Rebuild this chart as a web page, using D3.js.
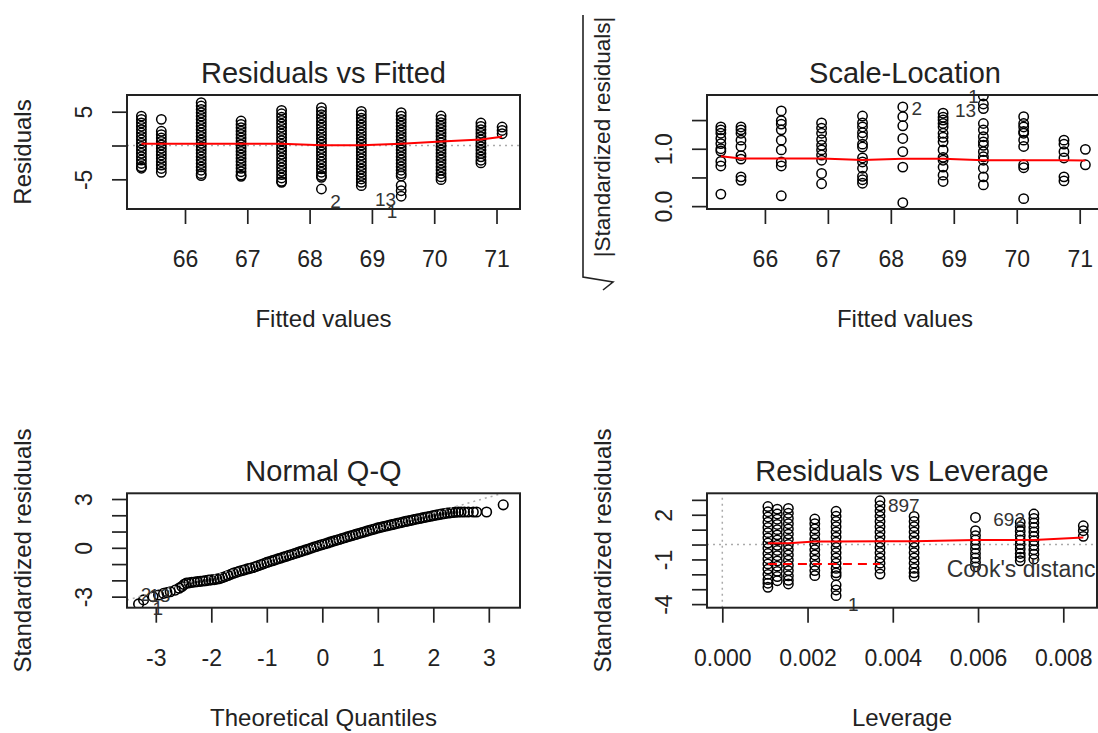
<!DOCTYPE html>
<html>
<head>
<meta charset="utf-8">
<script src="https://cdn.jsdelivr.net/npm/d3@7"></script>
<style>
  body { margin: 0; background: #fff; }
  svg { display: block; font-family: Arial, "Liberation Sans", sans-serif; }
</style>
</head>
<body>
<svg></svg>
<script>
// ---- data ----

// one fitted value per column of points
var fitted = [65.3, 65.62, 66.26, 66.9, 67.55, 68.19, 68.83, 69.47, 70.11, 70.75, 71.09];

// residuals in each fitted column
var residuals = [
  [4.35, 3.85, 3.35, 2.85, 2.35, 1.85, 1.35, 0.85, 0.35, -0.15, -0.65, -1.15, -1.65, -2.15, -2.65, -3.15, -3.36],
  [3.87, 2.1, 1.6, 1.1, 0.6, 0.1, -0.4, -0.9, -1.4, -1.9, -2.4, -2.9, -3.4, -3.96],
  [6.34, 5.84, 5.34, 4.84, 4.34, 3.84, 3.34, 2.84, 2.34, 1.84, 1.34, 0.84, 0.34, -0.16, -0.66, -1.16, -1.66, -2.16, -2.66, -3.16, -3.66, -4.16, -4.45],
  [3.62, 3.12, 2.62, 2.12, 1.62, 1.12, 0.62, 0.12, -0.38, -0.88, -1.38, -1.88, -2.38, -2.88, -3.38, -3.88, -4.38, -4.55],
  [5.2, 4.7, 4.2, 3.7, 3.2, 2.7, 2.2, 1.7, 1.2, 0.7, 0.2, -0.3, -0.8, -1.3, -1.8, -2.3, -2.8, -3.3, -3.8, -4.3, -4.8, -5.3, -5.44],
  [5.6, 5.05, 4.55, 4.05, 3.55, 3.05, 2.55, 2.05, 1.55, 1.05, 0.55, 0.05, -0.45, -0.95, -1.45, -1.95, -2.45, -2.95, -3.45, -3.95, -4.45, -4.7, -6.43],
  [5.05, 4.55, 4.05, 3.55, 3.05, 2.55, 2.05, 1.55, 1.05, 0.55, 0.05, -0.45, -0.95, -1.45, -1.95, -2.45, -2.95, -3.45, -3.95, -4.45, -4.95, -5.45, -5.94],
  [4.85, 4.35, 3.85, 3.35, 2.85, 2.35, 1.85, 1.35, 0.85, 0.35, -0.15, -0.65, -1.15, -1.65, -2.15, -2.65, -3.15, -3.65, -4.15, -4.5, -5.9, -6.68, -7.5],
  [4.36, 3.86, 3.36, 2.86, 2.36, 1.86, 1.36, 0.86, 0.36, -0.14, -0.64, -1.14, -1.64, -2.14, -2.64, -3.14, -3.64, -4.14, -4.64, -5.05],
  [3.32, 2.82, 2.32, 1.82, 1.32, 0.82, 0.32, -0.18, -0.68, -1.18, -1.68, -2.18, -2.57],
  [2.73, 2.23, 1.74]
];
var residSmooth = [0.25, 0.25, 0.25, 0.25, 0.25, 0.02, 0.02, 0.25, 0.6, 0.9, 1.3];
var residIds = ["2", "13", "1"];
var residIdFit = [68.33, 69.05, 69.24];
var residIdVal = [-8.2, -7.9, -9.7];

// sqrt(|standardized residuals|) in each fitted column
var sqrtStd = [
  [1.38, 1.33, 1.27, 1.18, 1.09, 1.0, 0.96, 0.78, 0.7, 0.21],
  [1.38, 1.33, 1.27, 1.15, 1.04, 0.88, 0.82, 0.51, 0.45],
  [1.66, 1.49, 1.43, 1.33, 1.15, 0.98, 0.77, 0.7, 0.18],
  [1.45, 1.36, 1.27, 1.16, 1.06, 0.98, 0.89, 0.8, 0.57, 0.39],
  [1.57, 1.45, 1.38, 1.28, 1.21, 1.08, 1.03, 0.84, 0.77, 0.66, 0.52, 0.46, 0.4],
  [1.73, 1.56, 1.4, 1.18, 0.95, 0.68, 0.06],
  [1.62, 1.55, 1.5, 1.44, 1.38, 1.27, 1.2, 1.12, 0.98, 0.85, 0.8, 0.68, 0.54, 0.43],
  [1.92, 1.78, 1.7, 1.44, 1.33, 1.21, 1.12, 1.06, 0.95, 0.86, 0.8, 0.66, 0.51, 0.37],
  [1.56, 1.44, 1.38, 1.3, 1.27, 1.15, 1.04, 0.72, 0.67, 0.13],
  [1.15, 1.08, 0.95, 0.84, 0.51, 0.44],
  [0.99, 0.72]
];
var sqrtSmooth = [0.87, 0.83, 0.83, 0.83, 0.805, 0.825, 0.825, 0.8, 0.8, 0.8, 0.795];
var sqrtIds = ["2", "13", "1"];
var sqrtIdFit = [68.33, 69.02, 69.23];
var sqrtIdVal = [1.71, 1.675, 1.92];

// normal Q-Q: theoretical quantile and standardized residual
var qqTheo = [-3.31, -3.22, -3.05, -2.95, -2.86, -2.8, -2.74, -2.65, -2.58, -2.53, -2.49,
  -2.45, -2.4, -2.35, -2.3, -2.25, -2.2, -2.15, -2.1, -2.05, -2.0, -1.95, -1.9, -1.85, -1.8,
  -1.75, -1.7, -1.65, -1.6, -1.55, -1.5, -1.45, -1.4, -1.35, -1.3, -1.25, -1.2, -1.15, -1.1,
  -1.05, -1.0, -0.95, -0.9, -0.85, -0.8, -0.75, -0.7, -0.65, -0.6, -0.55, -0.5, -0.45, -0.4,
  -0.35, -0.3, -0.25, -0.2, -0.15, -0.1, -0.05, 0.0, 0.05, 0.1, 0.15, 0.2, 0.25, 0.3, 0.35,
  0.4, 0.45, 0.5, 0.55, 0.6, 0.65, 0.7, 0.75, 0.8, 0.85, 0.9, 0.95, 1.0, 1.05, 1.1, 1.15, 1.2,
  1.25, 1.3, 1.35, 1.4, 1.45, 1.5, 1.55, 1.6, 1.65, 1.7, 1.75, 1.8, 1.85, 1.9, 1.95, 2.0, 2.05,
  2.1, 2.15, 2.2, 2.25, 2.3, 2.35, 2.4, 2.45, 2.5, 2.56, 2.63, 2.72, 2.78, 2.96, 3.26];
var qqSample = [-3.45, -3.2, -3.0, -2.9, -2.8, -2.75, -2.7, -2.6, -2.48, -2.38, -2.25,
  -2.17, -2.15, -2.12, -2.1, -2.08, -2.06, -2.04, -2.02, -1.99, -1.97, -1.95, -1.92, -1.89, -1.83,
  -1.77, -1.7, -1.63, -1.56, -1.51, -1.45, -1.4, -1.35, -1.3, -1.26, -1.21, -1.15, -1.09, -1.03,
  -0.97, -0.9, -0.85, -0.79, -0.74, -0.68, -0.63, -0.57, -0.52, -0.46, -0.41, -0.35, -0.3, -0.24,
  -0.19, -0.13, -0.08, -0.02, 0.04, 0.09, 0.15, 0.2, 0.25, 0.3, 0.36, 0.41, 0.46, 0.51, 0.57,
  0.62, 0.67, 0.72, 0.77, 0.82, 0.87, 0.92, 0.97, 1.02, 1.07, 1.12, 1.17, 1.22, 1.26, 1.3, 1.34, 1.38,
  1.42, 1.46, 1.5, 1.54, 1.58, 1.62, 1.66, 1.69, 1.73, 1.77, 1.8, 1.84, 1.87, 1.91, 1.94, 1.98, 2.01,
  2.04, 2.07, 2.1, 2.13, 2.15, 2.17, 2.19, 2.2, 2.2, 2.2, 2.2, 2.2, 2.2, 2.2, 2.64];
var qqIntercept = 0.2;
var qqSlope = 0.97;
var qqIds = ["2", "13", "1"];
var qqIdTheo = [-3.27, -3.12, -3.06];
var qqIdVal = [-2.84, -2.9, -3.7];

// residuals vs leverage: one leverage per column
var leverage = [0.00107, 0.00129, 0.00155, 0.00217, 0.00267, 0.0037, 0.0045, 0.00594, 0.00699, 0.00731, 0.00847];
var levStd = [
  [2.55, 2.2, 1.85, 1.5, 1.15, 0.8, 0.45, 0.1, -0.25, -0.6, -0.95, -1.3, -1.65, -2.0, -2.35, -2.6, -2.87],
  [2.38, 2.05, 1.7, 1.35, 1.0, 0.65, 0.3, -0.05, -0.4, -0.75, -1.1, -1.45, -1.8, -2.15, -2.43],
  [2.43, 2.1, 1.75, 1.4, 1.05, 0.7, 0.35, 0.0, -0.35, -0.7, -1.05, -1.4, -1.75, -2.1, -2.4, -2.65],
  [1.71, 1.4, 1.05, 0.7, 0.35, 0.0, -0.35, -0.7, -1.05, -1.4, -1.75, -2.09],
  [2.23, 1.9, 1.55, 1.2, 0.85, 0.5, 0.15, -0.2, -0.55, -0.9, -1.25, -1.6, -1.9, -2.09, -2.72, -3.05, -3.43],
  [2.94, 2.6, 2.25, 1.9, 1.55, 1.2, 0.85, 0.5, 0.15, -0.2, -0.55, -0.9, -1.25, -1.6, -1.98],
  [1.89, 1.55, 1.2, 0.85, 0.5, 0.15, -0.2, -0.55, -0.9, -1.25, -1.6, -1.9, -2.14],
  [1.82, 0.93, 0.6, 0.3, 0.0, -0.3, -0.6, -0.9, -1.2, -1.5],
  [1.49, 1.2, 0.9, 0.6, 0.3, 0.0, -0.3, -0.6, -0.85, -1.09],
  [2.05, 1.75, 1.45, 1.15, 0.85, 0.55, 0.25, -0.05, -0.35, -0.65, -0.98],
  [1.26, 0.93, 0.55]
];
var levSmooth = [0.08, 0.08, 0.08, 0.21, 0.21, 0.22, 0.22, 0.3, 0.3, 0.31, 0.48];
var cookLev = [0.00107, 0.0037];
var cookStd = [-1.31, -1.31];
var levIds = ["897", "692", "1"];
var levIdLev = [0.003887, 0.006358, 0.002949];
var levIdVal = [2.65, 1.71, -3.99];

// ticks and their labels (blank = label dropped by R for overlap)
var fittedTicks = [66, 67, 68, 69, 70, 71];
var fittedLabels = ["66", "67", "68", "69", "70", "71"];
var residTicks = [-5, 0, 5];
var residLabels = ["-5", "", "5"];
var sqrtTicks = [0, 0.5, 1, 1.5];
var sqrtLabels = ["0.0", "", "1.0", ""];
var theoTicks = [-3, -2, -1, 0, 1, 2, 3];
var theoLabels = ["-3", "-2", "-1", "0", "1", "2", "3"];
var qqTicks = [-3, -2, -1, 0, 1, 2, 3];
var qqLabels = ["-3", "", "", "0", "", "", "3"];
var levTicks = [0, 0.002, 0.004, 0.006, 0.008];
var levLabels = ["0.000", "0.002", "0.004", "0.006", "0.008"];
var levYTicks = [-4, -3, -2, -1, 0, 1, 2, 3];
var levYLabels = ["-4", "", "", "-1", "", "", "2", ""];

// ---- drawing ----
var width = 1098;
var height = 733;
var ink = "#222";

var svg = d3.select("svg")
    .attr("width", width)
    .attr("height", height);

function drawPanel(p) {
  var x = d3.scaleLinear().domain(p.xDomain).range([p.left, p.right]);
  var y = d3.scaleLinear().domain(p.yDomain).range([p.bottom, p.top]);

  svg.append("clipPath")
      .attr("id", "clip-" + p.id)
    .append("rect")
      .attr("x", p.left)
      .attr("y", p.top)
      .attr("width", p.right - p.left)
      .attr("height", p.bottom - p.top);

  var g = svg.append("g");
  var plot = g.append("g").attr("clip-path", "url(#clip-" + p.id + ")");

  var gx = g.append("g")
      .attr("transform", "translate(0," + p.bottom + ")")
      .attr("color", ink)
      .call(d3.axisBottom(x).tickValues(p.xTicks).tickSize(15)
        .tickFormat(function(d, i) { return p.xLabels[i]; }));
  gx.select(".domain").remove();
  gx.selectAll("line").attr("stroke-width", 1.7);
  gx.selectAll("text")
      .attr("y", 58)
      .attr("dy", null)
      .attr("font-size", 23)
      .attr("font-family", "Arial, 'Liberation Sans', sans-serif");

  var gy = g.append("g")
      .attr("transform", "translate(" + p.left + ",0)")
      .attr("color", ink)
      .call(d3.axisLeft(y).tickValues(p.yTicks).tickSize(15)
        .tickFormat(function(d, i) { return p.yLabels[i]; }));
  gy.select(".domain").remove();
  gy.selectAll("line").attr("stroke-width", 1.7);
  gy.selectAll("text")
      .attr("x", null)
      .attr("dy", null)
      .attr("text-anchor", "middle")
      .attr("transform", "translate(-35,0) rotate(-90)")
      .attr("font-size", 23)
      .attr("font-family", "Arial, 'Liberation Sans', sans-serif");

  g.append("text")
      .text(p.title)
      .attr("x", (p.left + p.right) / 2)
      .attr("y", p.top - 12)
      .attr("text-anchor", "middle")
      .attr("font-size", 29)
      .attr("fill", ink);

  g.append("text")
      .text(p.xTitle)
      .attr("x", (p.left + p.right) / 2)
      .attr("y", p.bottom + 118)
      .attr("text-anchor", "middle")
      .attr("font-size", 24)
      .attr("fill", ink);

  if (p.yTitle) {
    g.append("text")
        .text(p.yTitle)
        .attr("transform", "translate(" + (p.left - 96) + "," + ((p.top + p.bottom) / 2) + ") rotate(-90)")
        .attr("text-anchor", "middle")
        .attr("font-size", 24)
        .attr("fill", ink);
  }

  return { g: g, plot: plot, x: x, y: y, p: p };
}

function addBox(panel) {
  var p = panel.p;
  panel.g.append("rect")
      .attr("x", p.left)
      .attr("y", p.top)
      .attr("width", p.right - p.left)
      .attr("height", p.bottom - p.top)
      .attr("fill", "none")
      .attr("stroke", ink)
      .attr("stroke-width", 2);
}

function addColumns(panel, xs, cols) {
  var pts = [];
  cols.forEach(function(col, i) {
    col.forEach(function(v) { pts.push([xs[i], v]); });
  });
  panel.plot.selectAll("circle.pt")
    .data(pts)
    .enter()
    .append("circle")
      .attr("class", "pt")
      .attr("cx", d => panel.x(d[0]))
      .attr("cy", d => panel.y(d[1]))
      .attr("r", 4.7)
      .attr("fill", "none")
      .attr("stroke", "#000")
      .attr("stroke-width", 1.5);
}

function addDotted(panel, x1, y1, x2, y2) {
  panel.plot.append("line")
      .attr("x1", panel.x(x1)).attr("y1", panel.y(y1))
      .attr("x2", panel.x(x2)).attr("y2", panel.y(y2))
      .attr("stroke", "#aaa")
      .attr("stroke-width", 1.5)
      .attr("stroke-dasharray", "2,4");
}

function addRedLine(panel, xs, ys, dash) {
  var line = d3.line()
      .x((d, i) => panel.x(xs[i]))
      .y(d => panel.y(d));
  panel.plot.append("path")
      .datum(ys)
      .attr("d", line)
      .attr("fill", "none")
      .attr("stroke", "#ff0000")
      .attr("stroke-width", 2)
      .attr("stroke-dasharray", dash ? "9,6" : null);
}

function addIds(panel, ids, xs, ys) {
  panel.g.selectAll(null)
    .data(ids)
    .enter()
    .append("text")
      .text(d => d)
      .attr("x", (d, i) => panel.x(xs[i]))
      .attr("y", (d, i) => panel.y(ys[i]))
      .attr("dy", "0.36em")
      .attr("font-size", 19)
      .attr("fill", "#333");
}

// 1. Residuals vs Fitted
var p1 = drawPanel({
  id: "rf", left: 127, right: 520, top: 95, bottom: 209,
  xDomain: [65.069, 71.377], yDomain: [-9.39, 7.47],
  xTicks: fittedTicks, xLabels: fittedLabels,
  yTicks: residTicks, yLabels: residLabels,
  title: "Residuals vs Fitted", xTitle: "Fitted values", yTitle: "Residuals"
});
addDotted(p1, 65.069, 0, 71.377, 0);
addColumns(p1, fitted, residuals);
addRedLine(p1, fitted, residSmooth, false);
addIds(p1, residIds, residIdFit, residIdVal);
addBox(p1);

// 2. Scale-Location
var p2 = drawPanel({
  id: "sl", left: 707, right: 1103, top: 95, bottom: 209,
  xDomain: [65.08, 71.37], yDomain: [-0.05, 1.937],
  xTicks: fittedTicks, xLabels: fittedLabels,
  yTicks: sqrtTicks, yLabels: sqrtLabels,
  title: "Scale-Location", xTitle: "Fitted values", yTitle: null
});
addColumns(p2, fitted, sqrtStd);
addRedLine(p2, fitted, sqrtSmooth, false);
addIds(p2, sqrtIds, sqrtIdFit, sqrtIdVal);
addBox(p2);

// sqrt(|Standardized residuals|) axis title with the radical sign
var sq = p2.g.append("g").attr("fill", ink);
sq.append("text")
    .text("|Standardized residuals|")
    .attr("transform", "translate(610,137) rotate(-90)")
    .attr("text-anchor", "middle")
    .attr("font-size", 22.5);
sq.append("path")
    .attr("d", "M583,15 L583,277 L613,282 L603,290")
    .attr("fill", "none")
    .attr("stroke", ink)
    .attr("stroke-width", 1.6);

// 3. Normal Q-Q
var p3 = drawPanel({
  id: "qq", left: 127, right: 520, top: 493.3, bottom: 607.7,
  xDomain: [-3.519, 3.562], yDomain: [-3.68, 3.35],
  xTicks: theoTicks, xLabels: theoLabels,
  yTicks: qqTicks, yLabels: qqLabels,
  title: "Normal Q-Q", xTitle: "Theoretical Quantiles", yTitle: "Standardized residuals"
});
p3.plot.selectAll("circle.pt")
  .data(qqTheo)
  .enter()
  .append("circle")
    .attr("class", "pt")
    .attr("cx", d => p3.x(d))
    .attr("cy", (d, i) => p3.y(qqSample[i]))
    .attr("r", 4.8)
    .attr("fill", "none")
    .attr("stroke", "#000")
    .attr("stroke-width", 1.6);
addDotted(p3, -3.519, qqIntercept + qqSlope * -3.519, 3.562, qqIntercept + qqSlope * 3.562);
addIds(p3, qqIds, qqIdTheo, qqIdVal);
addBox(p3);

// 4. Residuals vs Leverage
var p4 = drawPanel({
  id: "rl", left: 707, right: 1097, top: 493.3, bottom: 607.7,
  xDomain: [-0.000359, 0.008791], yDomain: [-4.24, 3.44],
  xTicks: levTicks, xLabels: levLabels,
  yTicks: levYTicks, yLabels: levYLabels,
  title: "Residuals vs Leverage", xTitle: "Leverage", yTitle: "Standardized residuals"
});
addDotted(p4, -0.000359, 0, 0.008791, 0);
addDotted(p4, 0, -4.24, 0, 3.44);
addColumns(p4, leverage, levStd);
addRedLine(p4, leverage, levSmooth, false);
addRedLine(p4, cookLev, cookStd, true);
addIds(p4, levIds, levIdLev, levIdVal);
p4.g.append("text")
    .text("Cook's distance")
    .attr("x", p4.x(0.005265))
    .attr("y", p4.y(-2.18))
    .attr("font-size", 23)
    .attr("fill", "#333");
addBox(p4);
</script>
</body>
</html>
